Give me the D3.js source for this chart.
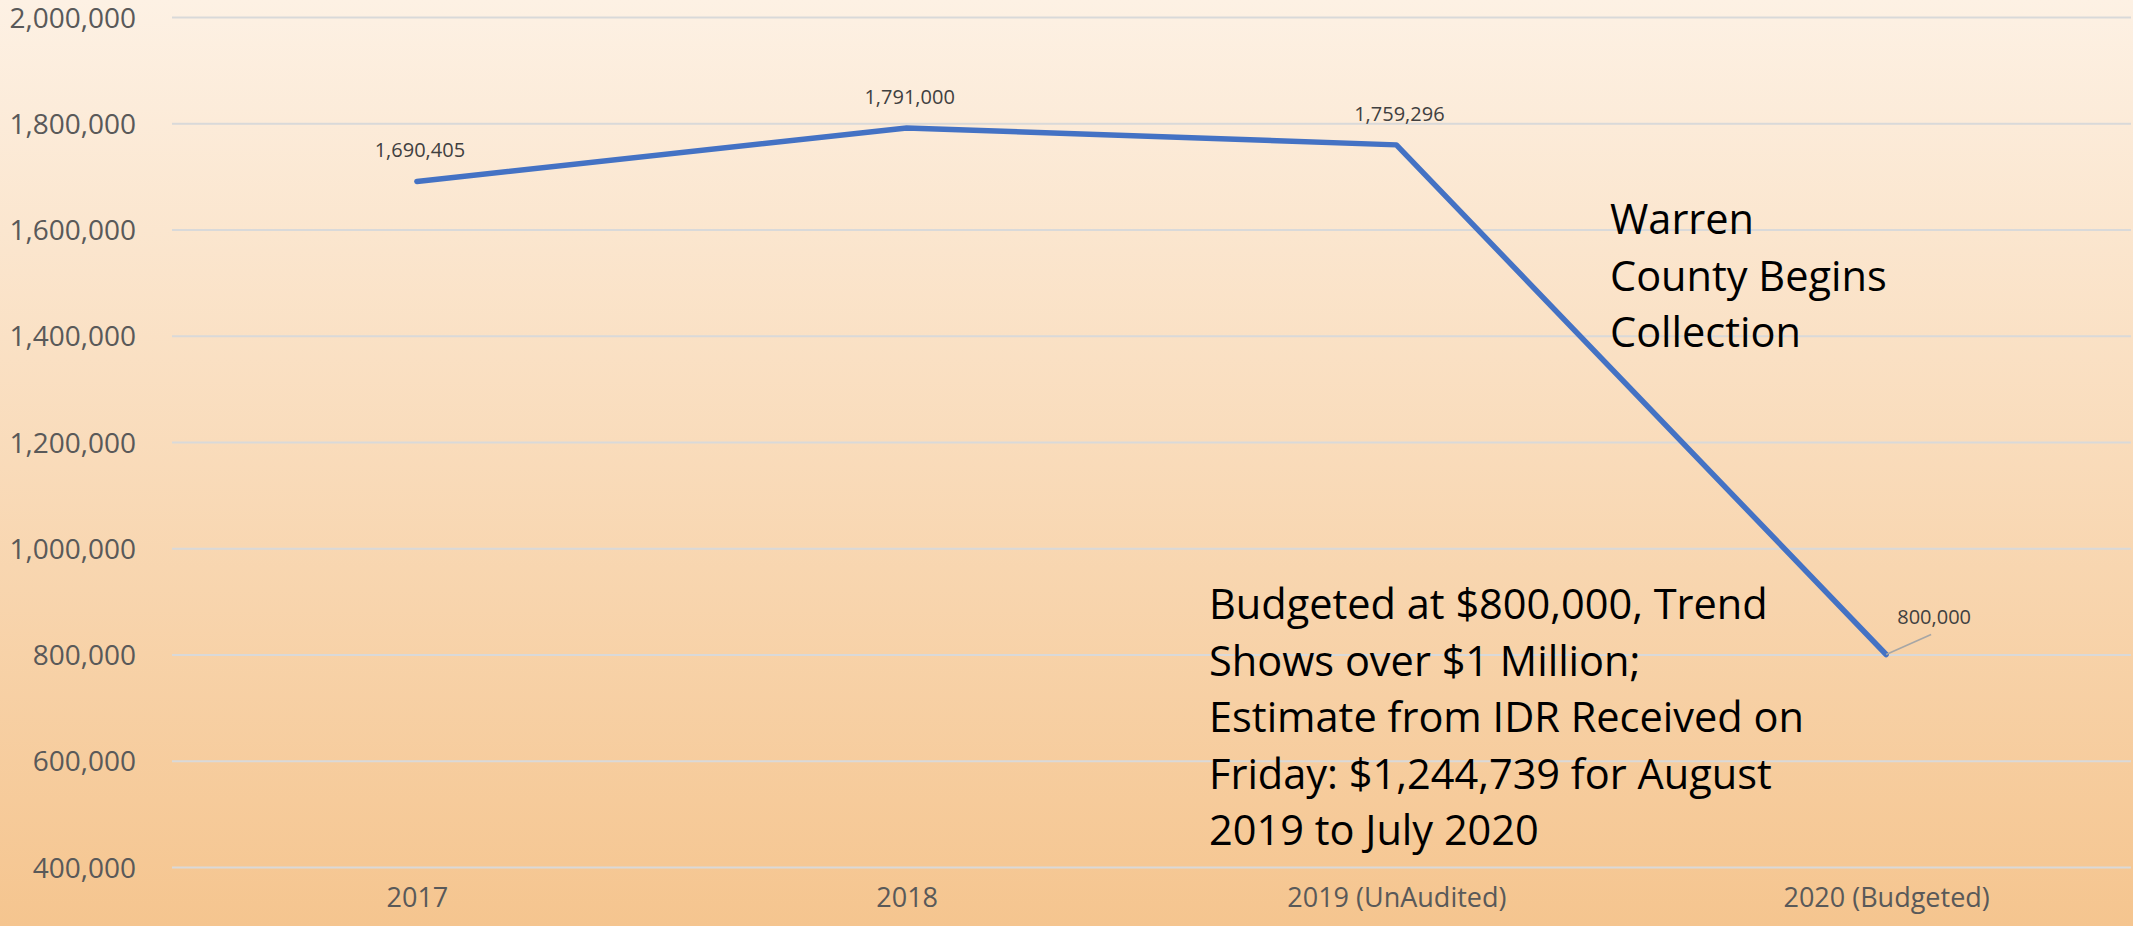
<!DOCTYPE html>
<html>
<head>
<meta charset="utf-8">
<script src="https://d3js.org/d3.v7.min.js"></script>
<style>
  body { margin: 0; padding: 0; overflow: hidden; }
  svg { display: block; }
  .tick text { font-family: "Open Sans", sans-serif; fill: #595959; }
</style>
</head>
<body>
<svg></svg>
<script>
var width = 2133,
    height = 926;

// revenue by year
var revenue = [
  { year: "2017", value: 1690405 },
  { year: "2018", value: 1791000 },
  { year: "2019 (UnAudited)", value: 1759296 },
  { year: "2020 (Budgeted)", value: 800000 }
];

var notes = [
  { x: 1610, y: 234, lines: ["Warren", "County Begins", "Collection"] },
  { x: 1209, y: 619, lines: ["Budgeted at $800,000, Trend", "Shows over $1 Million;",
      "Estimate from IDR Received on", "Friday: $1,244,739 for August", "2019 to July 2020"] }
];

var margin = { left: 172, right: 2, top: 17, bottom: 59 };

var svg = d3.select("svg")
    .attr("width", width)
    .attr("height", height);

// background fill
var defs = svg.append("defs");
var grad = defs.append("linearGradient")
    .attr("id", "bg")
    .attr("x1", 0).attr("y1", 0)
    .attr("x2", 0).attr("y2", 1);
grad.append("stop").attr("offset", "0%").attr("stop-color", "#fdf1e4");
grad.append("stop").attr("offset", "100%").attr("stop-color", "#f5c58f");

svg.append("rect")
    .attr("width", width)
    .attr("height", height)
    .attr("fill", "url(#bg)");

var x = d3.scalePoint()
    .domain(revenue.map(function(d) { return d.year; }))
    .range([margin.left, width - margin.right])
    .padding(0.5);

var y = d3.scaleLinear()
    .domain([400000, 2000000])
    .range([height - margin.bottom, margin.top]);

// gridlines + y labels
var yAxis = svg.append("g")
    .attr("transform", "translate(" + margin.left + ",0)")
    .call(d3.axisLeft(y)
      .tickValues(d3.range(400000, 2000001, 200000))
      .tickSize(-(width - margin.left - margin.right))
      .tickPadding(36)
      .tickFormat(d3.format(",")));
yAxis.select(".domain").remove();
yAxis.selectAll(".tick line")
    .attr("stroke", "#d9d9d9")
    .attr("stroke-width", 2);
yAxis.selectAll(".tick text")
    .style("font-size", "28px")
    .attr("dy", "0.36em");

// x labels
var xAxis = svg.append("g")
    .attr("transform", "translate(0," + (height - margin.bottom) + ")")
    .call(d3.axisBottom(x).tickSize(0).tickPadding(30));
xAxis.select(".domain").remove();
xAxis.selectAll(".tick text")
    .style("font-size", "27px")
    .attr("dy", "0.36em");

var line = d3.line()
    .x(function(d) { return x(d.year); })
    .y(function(d) { return y(d.value); });

svg.append("path")
    .datum(revenue)
    .attr("fill", "none")
    .attr("stroke", "#4472c4")
    .attr("stroke-width", 5.5)
    .attr("stroke-linejoin", "round")
    .attr("stroke-linecap", "round")
    .attr("d", line);

// data labels; the last one sits off the point with a leader line
var last = revenue[revenue.length - 1];
svg.append("line")
    .attr("x1", x(last.year))
    .attr("y1", y(last.value))
    .attr("x2", x(last.year) + 45)
    .attr("y2", y(last.value) - 20)
    .attr("stroke", "#a6a6a6")
    .attr("stroke-width", 1.5);

svg.selectAll(".dlabel")
    .data(revenue).enter()
    .append("text")
    .attr("class", "dlabel")
    .attr("x", function(d, i) { return x(d.year) + (i == revenue.length - 1 ? 48 : 3); })
    .attr("y", function(d, i) { return y(d.value) - (i == revenue.length - 1 ? 31 : 24); })
    .attr("text-anchor", "middle")
    .style("font-family", "'Open Sans', sans-serif")
    .style("font-size", "20px")
    .attr("fill", "#404040")
    .text(function(d) { return d3.format(",")(d.value); });

// annotation text boxes
notes.forEach(function(n) {
  var t = svg.append("text")
      .attr("x", n.x)
      .attr("y", n.y)
      .style("font-family", "'Open Sans', sans-serif")
      .style("font-size", "41.5px")
      .attr("fill", "#000");
  n.lines.forEach(function(s, i) {
    t.append("tspan")
      .attr("x", n.x)
      .attr("dy", i == 0 ? 0 : 56.5)
      .text(s);
  });
});
</script>
</body>
</html>
